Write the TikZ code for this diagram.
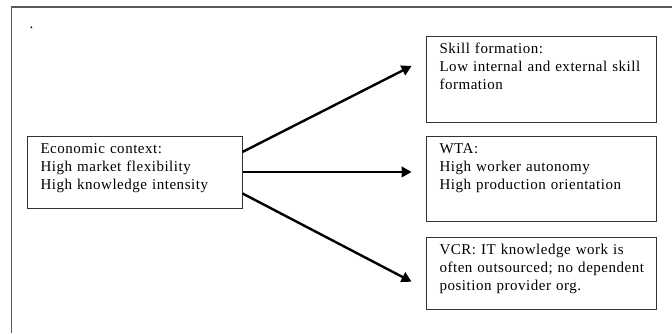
\documentclass[tikz,border=0pt]{standalone}
\usepackage{fontspec}
\setmainfont[LetterSpace=3.5]{Liberation Serif}
\usetikzlibrary{arrows.meta,positioning}

\begin{document}
\begin{tikzpicture}[x=1pt,y=-1pt,
  txtbox/.style={draw=black!80, line width=0.9pt, anchor=north west, align=left,
    inner xsep=13.5pt, inner ysep=6.5pt, text height=11pt,
    font=\fontsize{15}{17.6}\selectfont},
  flow/.style={line width=2.4pt, -{Triangle[length=10pt,width=10.5pt]}}]
\useasboundingbox (0,0) rectangle (672,333);
\draw[black!65, line width=1.6pt] (11.5,333) -- (11.5,6.7) -- (672,6.7); %outer frame
\node[anchor=base, font=\fontsize{15}{17.6}\selectfont] (dot) at (31.5,28) {.};

\node[txtbox, text width=188pt, text depth=48pt] (econ) at (26.6,136)
  {Economic context:\\High market flexibility\\High knowledge intensity};

%right boxes
\node[txtbox, text width=203.5pt, text depth=62pt] (skill) at (425.6,36)
  {Skill formation:\\Low internal and external skill\\formation};
\node[txtbox, text width=203.5pt, text depth=61pt] (wta) at (425.6,136)
  {WTA:\\High worker autonomy\\High production orientation};
\node[txtbox, text width=203.5pt, text depth=47.5pt] (vcr) at (425.6,237)
  {VCR: IT knowledge work is\\often outsourced; no dependent\\position provider org.};

\draw[flow] ([yshift=20.5pt]econ.east) -- ([xshift=-14pt,yshift=13.5pt]skill.west);
\draw[flow] ([yshift=0.5pt]econ.east) -- ([xshift=-14pt,yshift=7pt]wta.west);
\draw[flow] ([yshift=-21pt]econ.east) -- ([xshift=-14pt,yshift=-8.5pt]vcr.west);
\end{tikzpicture}
\end{document}
